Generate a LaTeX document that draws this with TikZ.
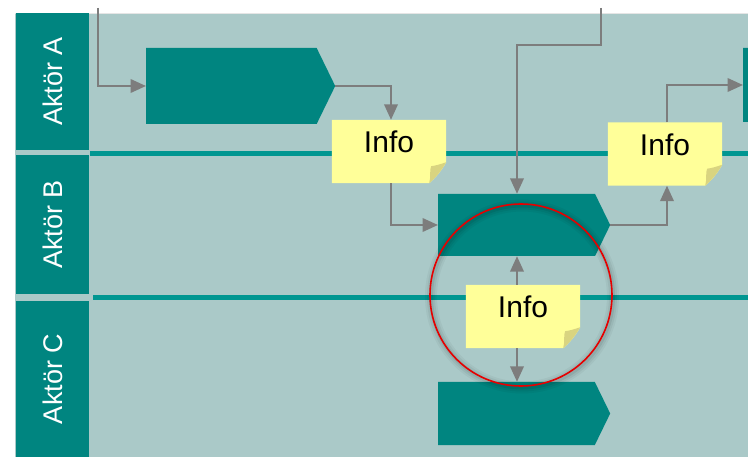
\documentclass[tikz,border=0pt]{standalone}
\usepackage{fontspec}
\setmainfont{Liberation Sans}
\usetikzlibrary{shapes.symbols,arrows.meta,calc}
\definecolor{bgteal}{RGB}{170,201,200}
\definecolor{headteal}{RGB}{0,133,128}
\definecolor{divteal}{RGB}{0,150,145}
\definecolor{noteY}{RGB}{255,255,153}
\definecolor{foldY}{RGB}{217,212,128}
\definecolor{connG}{RGB}{125,125,125}
\definecolor{circred}{RGB}{230,0,0}
\pgfdeclarelayer{bg}
\pgfdeclarelayer{notebg}
\pgfdeclarelayer{top}
\pgfsetlayers{bg,notebg,main,top}
\newcommand\mynotefill[1]{%
\begin{pgfonlayer}{notebg}
\fill[noteY] (#1.north west) -- (#1.north east) -- ($(#1.south east)+(0,-21)$)
  .. controls ($(#1.south east)+(-5,-12)$) and ($(#1.south east)+(-11,-5)$) .. ($(#1.south east)+(-17,0)$)
  -- (#1.south west) -- cycle;
\fill[foldY] ($(#1.south east)+(0,-21)$)
  .. controls ($(#1.south east)+(-5,-12)$) and ($(#1.south east)+(-11,-5)$) .. ($(#1.south east)+(-17,0)$)
  .. controls ($(#1.south east)+(-15,-7)$) and ($(#1.south east)+(-17,-13)$) .. ($(#1.south east)+(-15,-17)$)
  .. controls ($(#1.south east)+(-9,-18)$) .. cycle;
\end{pgfonlayer}}
\begin{document}
\begin{tikzpicture}[x=1pt,y=-1pt,
  conn/.style={draw=connG,line width=2.2pt,-{Triangle[length=15.5pt,width=13.5pt]}},
  proc/.style={signal,signal to=east,signal pointer angle=128,fill=headteal,draw=none,inner sep=0pt,anchor=west},
  infonote/.style={rectangle,minimum width=114pt,minimum height=63pt,inner sep=0pt,
    font=\fontsize{30}{30}\selectfont,text=black,text height=22pt,text depth=19pt},
  header/.style={rectangle,fill=headteal,inner sep=0pt,minimum height=73pt,rotate=90,
    text=white,font=\fontsize{27}{27}\selectfont},
  divider/.style={draw=divteal,line width=5pt}]
\useasboundingbox (0,0) rectangle (748,457);
\begin{pgfonlayer}{bg}
\fill[white] (0,0) rectangle (748,457);
\fill[bgteal] (15,13) rectangle (748,457);
\draw[gray!20,line width=1pt] (15,13.5) -- (748,13.5);
\node[header,minimum width=137pt] (hA) at (52.5,81.5) {Aktör A};
\node[header,minimum width=139pt] (hB) at (52.5,224.5) {Aktör B};
\node[header,minimum width=156pt] (hC) at (52.5,379) {Aktör C};
\draw[divider] (90,153.5) -- (748,153.5);
\draw[divider] (93,297.5) -- (748,297.5);
\end{pgfonlayer}
% process shapes
\node[proc,minimum width=189pt,minimum height=76pt] (s1) at (146,86) {};
\node[proc,minimum width=172pt,minimum height=62pt] (s2) at (438,225) {};
\node[proc,minimum width=172pt,minimum height=63pt] (s3) at (438,413.5) {};
\node[proc,minimum width=172pt,minimum height=74pt] (s4) at (743,85) {};
% info notes
\node[infonote] (i1) at (389,151.5) {Info};
\node[infonote] (i2) at (665,154) {Info};
\node[infonote] (i3) at (523,316.5) {Info};
\mynotefill{i1}
\mynotefill{i2}
\mynotefill{i3}
% connectors
\coordinate (t1) at (98,8);
\coordinate (t2) at (601,8);
\coordinate (k4) at (517,45);
\coordinate (k7) at (517,300);
\draw[conn] (t1) |- (s1.west);
\draw[conn] (s1.east) -| ($(i1.north)+(2,0)$);
\draw[conn] ($(i1.south)+(2,0)$) |- (s2.west);
\draw[conn] (t2) |- (k4) -- (k4 |- s2.north);
\draw[conn] (s2.east) -| ($(i2.south)+(2,0)$);
\draw[conn] ($(i2.north)+(2,0)$) |- (s4.west);
\draw[conn] (k7 |- i3.north) -- (k7 |- s2.south);
\draw[conn] (k7 |- i3.south) -- (k7 |- s3.north);
% highlight circle
\begin{pgfonlayer}{top}
\foreach \w/\o in {12/0.04,8/0.05,4/0.07}
  \draw[black,opacity=\o,line width=\w pt] (522,296.5) circle[radius=91pt];
\draw[circred,line width=1.6pt] (521,295) circle[radius=91pt];
\end{pgfonlayer}
\end{tikzpicture}
\end{document}
